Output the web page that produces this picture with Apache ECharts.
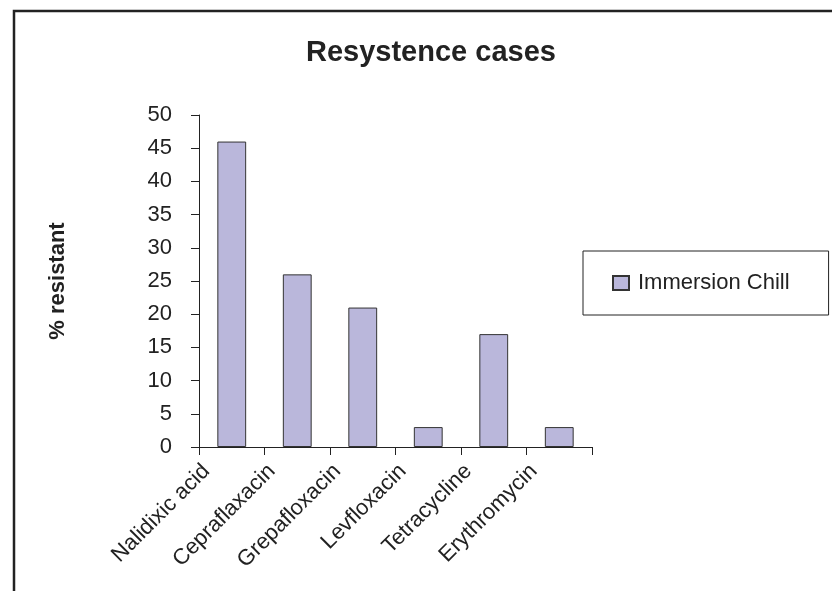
<!DOCTYPE html>
<html>
<head>
<meta charset="utf-8">
<script src="https://cdn.jsdelivr.net/npm/echarts@6/dist/echarts.min.js"></script>
<style>
  html, body { margin: 0; padding: 0; background: #fff; }
  #chart { width: 832px; height: 591px; }
</style>
</head>
<body>
<div id="chart"></div>
<script>
// Antibiotics tested and the share of resistant isolates (%)
const drugs = ['Nalidixic acid', 'Cepraflaxacin', 'Grepafloxacin', 'Levfloxacin', 'Tetracycline', 'Erythromycin'];
const immersionChill = [46, 26, 21, 3, 17, 3];
const seriesName = 'Immersion Chill';
const yTicks = { min: 0, max: 50, interval: 5 };

const ink = '#222';
const fontFamily = '"Liberation Sans", Arial, Helvetica, sans-serif';
const labelSize = 22;

const chart = echarts.init(document.getElementById('chart'), null, { renderer: 'canvas' });

chart.setOption({
  backgroundColor: '#fff',
  animation: false,
  textStyle: { fontFamily: fontFamily, color: ink },
  title: {
    text: 'Resystence cases',
    left: 306,
    top: 38,
    padding: 0,
    textStyle: { fontSize: 29, fontWeight: 'bold', color: ink, fontFamily: fontFamily }
  },
  // outer frame around the chart area
  graphic: [{
    type: 'rect',
    shape: { x: 14, y: 11, width: 900, height: 700 },
    style: { fill: 'none', stroke: ink, lineWidth: 2.5 },
    silent: true
  }],
  legend: {
    data: [seriesName],
    left: 583,
    top: 251,
    orient: 'vertical',
    padding: [21, 39, 21, 29],
    borderColor: ink,
    borderWidth: 1,
    borderRadius: 0,
    itemWidth: 16,
    itemHeight: 14,
    icon: 'rect',
    textStyle: { fontSize: labelSize, color: ink, fontFamily: fontFamily, padding: [0, 0, 0, 4] }
  },
  grid: { left: 199, right: 240, top: 115, bottom: 144, containLabel: false },
  xAxis: {
    type: 'category',
    data: drugs,
    boundaryGap: true,
    axisLine: { show: true, lineStyle: { color: ink, width: 1 } },
    axisTick: { show: true, length: 8, inside: false, lineStyle: { color: ink } },
    axisLabel: {
      interval: 0,
      rotate: 45,
      margin: 11,
      align: 'right',
      verticalAlign: 'bottom',
      // trailing spacer pulls each slanted name back toward the tick on its left
      formatter: (name) => '{t|' + name + '}{s| }',
      rich: {
        t: { fontSize: labelSize, color: ink, fontFamily: fontFamily, lineHeight: 22 },
        s: { width: 25, fontSize: labelSize, lineHeight: 22 }
      }
    },
    splitLine: { show: false }
  },
  yAxis: {
    type: 'value',
    min: yTicks.min,
    max: yTicks.max,
    interval: yTicks.interval,
    name: '% resistant',
    nameLocation: 'middle',
    nameGap: 130,
    nameTextStyle: { fontSize: labelSize, fontWeight: 'bold', color: ink, fontFamily: fontFamily },
    axisLine: { show: true, lineStyle: { color: ink, width: 1 } },
    axisTick: { show: true, length: 8, inside: false, lineStyle: { color: ink } },
    axisLabel: { margin: 27, fontSize: labelSize, color: ink, fontFamily: fontFamily },
    splitLine: { show: false }
  },
  series: [{
    name: seriesName,
    type: 'bar',
    data: immersionChill,
    barWidth: '44%',
    itemStyle: { color: '#BAB7DB', borderColor: '#333', borderWidth: 1 }
  }]
});
</script>
</body>
</html>
